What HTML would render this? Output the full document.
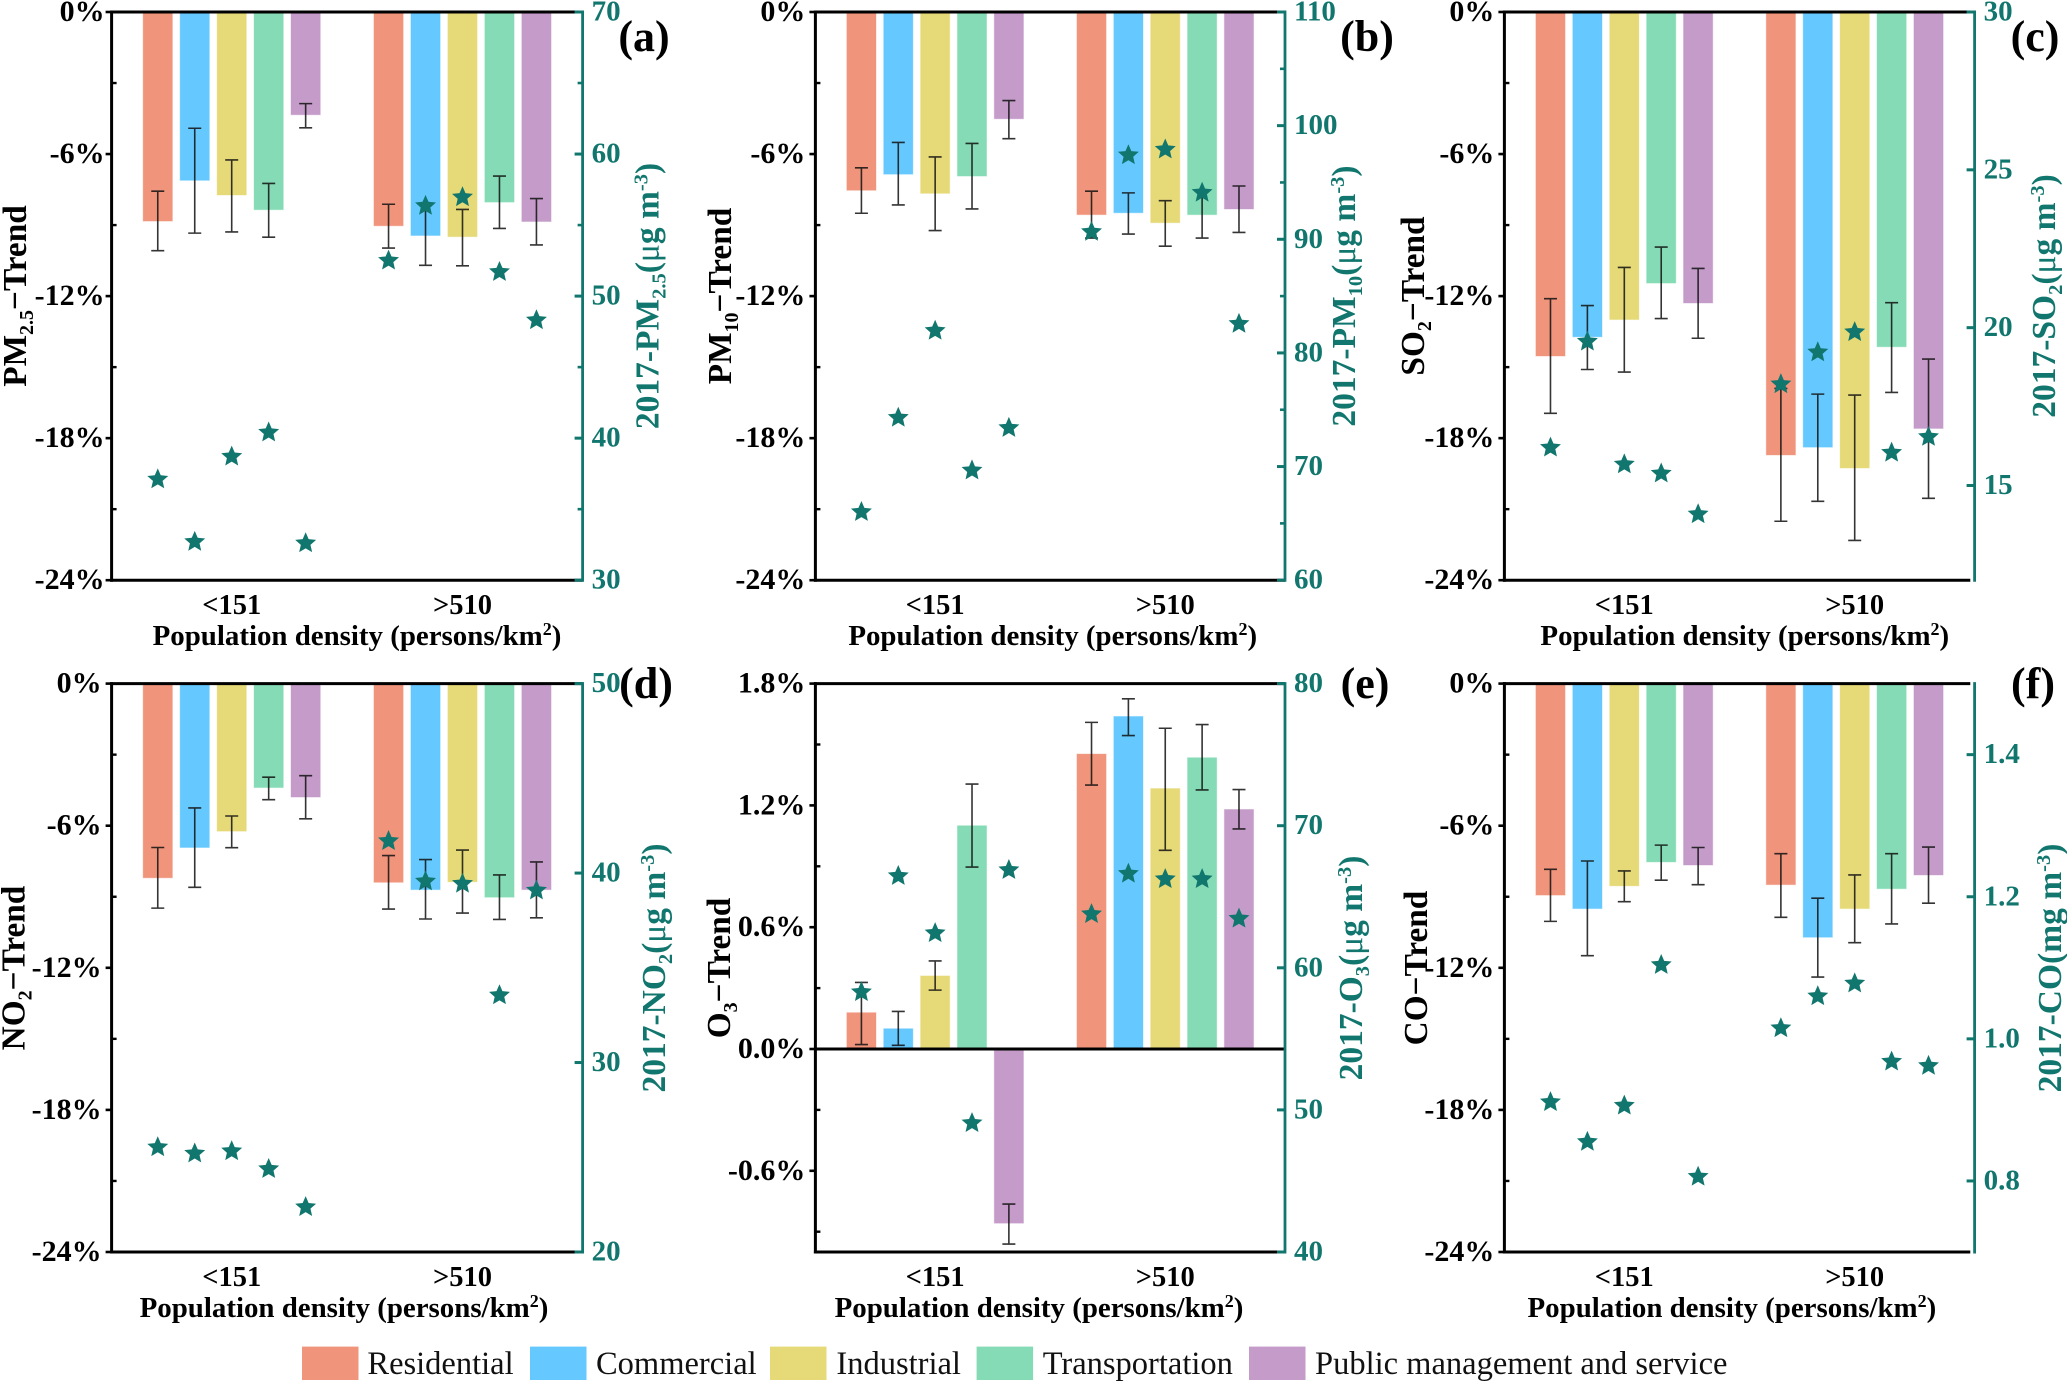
<!DOCTYPE html>
<html lang="en">
<head>
<meta charset="utf-8">
<title>Pollutant trends by population density</title>
<style>
html,body{margin:0;padding:0;background:#fff;width:2067px;height:1381px;overflow:hidden}
svg{display:block;font-family:"Liberation Serif",serif}
text{font-family:"Liberation Serif",serif}
</style>
</head>
<body>
<svg id="figure" xmlns="http://www.w3.org/2000/svg" width="2067" height="1381" viewBox="0 0 2067 1381"></svg>
<script>
const groups = ["<151", ">510"];
const sectors = ["Residential", "Commercial", "Industrial", "Transportation", "Public management and service"];
const sectorColors = ["#f0957c", "#65c9ff", "#e6d977", "#84dbb5", "#c49bc9"];

const trendTicks = ["0%", "-6%", "-12%", "-18%", "-24%"];
const trendMinorTicks = [-3, -9, -15, -21];
const o3TrendTicks = ["1.8%", "1.2%", "0.6%", "0.0%", "-0.6%"];
const o3TrendMinorTicks = [1.5, 0.9, 0.3, -0.3, -0.9];

const pm25Trend = [-8.83, -7.11, -7.73, -8.35, -4.34, -9.03, -9.44, -9.49, -8.03, -8.85];
const pm25ErrUpper = [-7.57, -4.91, -6.25, -7.24, -3.87, -8.12, -8.17, -8.34, -6.93, -7.88];
const pm25ErrLower = [-10.08, -9.34, -9.29, -9.51, -4.89, -9.97, -10.7, -10.72, -9.14, -9.84];
const pm25Conc = [37.1, 32.7, 38.7, 40.4, 32.6, 52.5, 56.35, 56.96, 51.7, 48.3];
const pm25ConcTicks = ["70", "60", "50", "40", "30"];
const pm25ConcMinor = [65, 55, 45, 35];

const pm10Trend = [-7.53, -6.85, -7.66, -6.93, -4.51, -8.56, -8.48, -8.9, -8.56, -8.32];
const pm10ErrUpper = [-6.58, -5.51, -6.12, -5.55, -3.74, -7.57, -7.64, -7.97, -7.57, -7.35];
const pm10ErrLower = [-8.5, -8.15, -9.23, -8.32, -5.35, -9.55, -9.38, -9.89, -9.55, -9.31];
const pm10Conc = [66.0, 74.3, 81.95, 69.66, 73.4, 90.65, 97.4, 97.9, 94.1, 82.56];
const pm10ConcTicks = ["110", "100", "90", "80", "70", "60"];
const pm10ConcMinor = [105, 95, 85, 75, 65];

const so2Trend = [-14.53, -13.72, -12.99, -11.45, -12.29, -18.71, -18.38, -19.26, -14.14, -17.59];
const so2ErrUpper = [-12.11, -12.4, -10.79, -9.93, -10.83, -15.9, -16.14, -16.18, -12.28, -14.66];
const so2ErrLower = [-16.95, -15.1, -15.21, -12.95, -13.78, -21.51, -20.67, -22.32, -16.07, -20.54];
const so2Conc = [16.2, 19.56, 15.67, 15.38, 14.09, 18.21, 19.22, 19.86, 16.04, 16.54];
const so2ConcTicks = ["30", "25", "20", "15"];
const so2ConcMinor = [];

const no2Trend = [-8.2, -6.92, -6.23, -4.39, -4.79, -8.39, -8.7, -8.37, -9.02, -8.7];
const no2ErrUpper = [-6.92, -5.25, -5.59, -3.95, -3.89, -7.26, -7.43, -7.03, -8.08, -7.53];
const no2ErrLower = [-9.48, -8.6, -6.93, -4.9, -5.71, -9.52, -9.94, -9.69, -9.96, -9.89];
const no2Conc = [25.53, 25.2, 25.32, 24.38, 22.37, 41.69, 39.56, 39.44, 33.55, 39.08];
const no2ConcTicks = ["50", "40", "30", "20"];
const no2ConcMinor = [];

const o3Trend = [0.179, 0.1, 0.36, 1.1, -0.858, 1.453, 1.638, 1.283, 1.435, 1.18];
const o3ErrUpper = [0.328, 0.185, 0.434, 1.305, -0.764, 1.609, 1.725, 1.58, 1.598, 1.278];
const o3ErrLower = [0.022, 0.018, 0.29, 0.896, -0.961, 1.3, 1.544, 0.979, 1.276, 1.084];
const o3Conc = [58.29, 66.46, 62.44, 49.07, 66.88, 63.78, 66.62, 66.24, 66.24, 63.46];
const o3ConcTicks = ["80", "70", "60", "50", "40"];
const o3ConcMinor = [];

const coTrend = [-8.93, -9.5, -8.54, -7.53, -7.66, -8.49, -10.71, -9.5, -8.66, -8.08];
const coErrUpper = [-7.84, -7.49, -7.91, -6.82, -6.92, -7.18, -9.06, -8.08, -7.18, -6.9];
const coErrLower = [-10.04, -11.49, -9.21, -8.3, -8.49, -9.87, -12.39, -10.94, -10.15, -9.27];
const coConc = [0.911, 0.855, 0.906, 1.104, 0.806, 1.015, 1.06, 1.078, 0.968, 0.962];
const coConcTicks = ["1.4", "1.2", "1.0", "0.8"];
const coConcMinor = [];

const BLACK = "#000";
const TEAL = "#11766e";
const NS = "http://www.w3.org/2000/svg";
const fig = document.getElementById("figure");

function mk(parent, tag, attrs, txt) {
  const el = document.createElementNS(NS, tag);
  for (const k in attrs) el.setAttribute(k, attrs[k]);
  if (txt !== undefined) el.textContent = txt;
  parent.appendChild(el);
  return el;
}

function starPoints(cx, cy, R) {
  const pts = [];
  for (let i = 0; i < 10; i++) {
    const r = i % 2 ? R * 0.46 : R;
    const a = -Math.PI / 2 + i * Math.PI / 5;
    pts.push((cx + r * Math.cos(a)).toFixed(2) + "," + (cy + r * Math.sin(a)).toFixed(2));
  }
  return pts.join(" ");
}

function richTitle(el, markup) {
  el.innerHTML = markup;
}

function drawPanel(p) {
  const g = mk(fig, "g", {});
  
  

  const W = p.R - p.L;
  const H = p.B - p.T;
  const yLeft = v => p.T + (p.lMax - v) / (p.lMax - p.lMin) * H;
  const yRight = v => p.T + (p.rMax - v) / (p.rMax - p.rMin) * H;
  const xBar = i => {
    const grp = i < 5 ? 0 : 1;
    const c = grp === 0 ? 0.255 : 0.745;
    return p.L + W * (c + ((i % 5) - 2) * 0.0785);
  };
  const barW = W * 0.0621;
  const zero = yLeft(0);

  p.bars.forEach((v, i) => {
    const y0 = Math.min(yLeft(v), zero);
    const h = Math.abs(yLeft(v) - zero);
    const rect = mk(g, "rect", {
      x: xBar(i) - barW / 2, y: y0, width: barW, height: h,
      fill: sectorColors[i % 5], stroke: sectorColors[i % 5], "stroke-opacity": 0.4, "stroke-width": 1
    });
    
    
  });

  p.bars.forEach((v, i) => {
    const x = xBar(i);
    const e = mk(g, "path", {
      d: "M" + x + " " + yLeft(p.upper[i]) + "V" + yLeft(p.lower[i]) +
         "M" + (x - 6.5) + " " + yLeft(p.upper[i]) + "h13" +
         "M" + (x - 6.5) + " " + yLeft(p.lower[i]) + "h13",
      stroke: "#111", "stroke-width": 1.6, fill: "none", "stroke-opacity": 0.85
    });
    
    
  });

  const blackEnd = p.blackEnd || p.R;
  const topLine = mk(g, "line", {x1: p.L - 1.5, x2: blackEnd, y1: p.T, y2: p.T, stroke: BLACK, "stroke-width": 3});
  
  
  const botLine = mk(g, "line", {x1: p.L - 1.5, x2: blackEnd, y1: p.B, y2: p.B, stroke: BLACK, "stroke-width": 3});
  
  
  const leftLine = mk(g, "line", {x1: p.L, x2: p.L, y1: p.T - 1.5, y2: p.B + 1.5, stroke: BLACK, "stroke-width": 3});
  
  
  if (p.zeroLine) {
    const zl = mk(g, "line", {x1: p.L, x2: p.R, y1: zero, y2: zero, stroke: BLACK, "stroke-width": 3});
    
    
  }
  const rightLine = mk(g, "line", {x1: p.R, x2: p.R, y1: p.T - 1.5, y2: p.B + 1.5, stroke: TEAL, "stroke-width": 2.8});
  
  

  p.lTicks.forEach(t => {
    const y = yLeft(parseFloat(t));
    const tick = mk(g, "line", {x1: p.L - 6, x2: p.L, y1: y, y2: y, stroke: BLACK, "stroke-width": 2.6});
    
    
    const lab = mk(g, "text", {x: p.L - p.lOff, y: y + 9, "text-anchor": "end", "font-size": 30, "font-weight": "bold", fill: BLACK}, t);
    
    
  });
  p.lMinor.forEach(v => {
    const y = yLeft(v);
    const tick = mk(g, "line", {x1: p.L, x2: p.L + 5, y1: y, y2: y, stroke: BLACK, "stroke-width": 2.4});
    
    
  });
  p.rTicks.forEach(t => {
    const y = yRight(parseFloat(t));
    const tick = mk(g, "line", {x1: p.R - 8, x2: p.R, y1: y, y2: y, stroke: TEAL, "stroke-width": 3});
    
    
    const lab = mk(g, "text", {x: p.R + 9, y: y + 8.5, "font-size": 29, "font-weight": "bold", fill: TEAL}, t);
    
    
  });
  p.rMinor.forEach(v => {
    const y = yRight(v);
    const tick = mk(g, "line", {x1: p.R - 5, x2: p.R, y1: y, y2: y, stroke: TEAL, "stroke-width": 2.6});
    
    
  });

  p.stars.forEach((v, i) => {
    const s = mk(g, "polygon", {points: starPoints(xBar(i), yRight(v), 11), fill: TEAL});
    
    
  });

  groups.forEach((name, i) => {
    const c = i === 0 ? 0.255 : 0.745;
    const lab = mk(g, "text", {x: p.L + W * c, y: p.B + 34, "text-anchor": "middle", "font-size": 28.5, "font-weight": "bold", fill: BLACK}, name);
    
    
  });

  const xt = mk(g, "text", {x: p.xTitleX, y: p.B + 65, "text-anchor": "middle", "font-size": 28.9, "font-weight": "bold", fill: BLACK});
  
  
  richTitle(xt, 'Population density (persons/km<tspan dy="-10" font-size="18">2</tspan><tspan dy="10">)</tspan>');

  const yt = mk(g, "text", {transform: "translate(" + p.yTitleX + "," + p.cy + ") rotate(-90)", "text-anchor": "middle", "font-size": 33.3, "font-weight": "bold", fill: BLACK});
  
  
  richTitle(yt, p.yTitle);

  const rt = mk(g, "text", {transform: "translate(" + p.rTitleX + "," + p.cy + ") rotate(-90)", "text-anchor": "middle", "font-size": 33.5, "font-weight": "bold", fill: TEAL});
  
  
  richTitle(rt, p.rTitle);

  const pl = mk(g, "text", {x: p.labelX, y: p.labelY, "text-anchor": "middle", "font-size": 44, "font-weight": "bold", fill: BLACK}, "(" + p.id + ")");
  
  
}

const sub = s => '<tspan dy="7" font-size="20">' + s + '</tspan><tspan dy="-7">';
const subR = s => '<tspan dy="7" font-size="20.5">' + s + '</tspan><tspan dy="-7">';
const unit = (u, m) => '(<tspan font-weight="normal">' + u + '</tspan>g m<tspan dy="-11" font-size="20.5">-3</tspan><tspan dy="11">)</tspan>';

const topRow = {T: 12, B: 580.2, cy: 296};
const botRow = {T: 683.6, B: 1252, cy: 968};
const colA = {L: 111.6, R: 582.6};
const colB = {L: 815.4, R: 1285};
const colC = {L: 1504.4, R: 1974.6, blackEnd: 1970.3};

drawPanel({id: "a", ...topRow, ...colA, lMax: 0, lMin: -24, rMax: 70, rMin: 30, lOff: 7,
  bars: pm25Trend, upper: pm25ErrUpper, lower: pm25ErrLower, stars: pm25Conc,
  lTicks: trendTicks, lMinor: trendMinorTicks, rTicks: pm25ConcTicks, rMinor: pm25ConcMinor,
  xTitleX: 357, yTitleX: 26, rTitleX: 658.5, labelX: 644, labelY: 51,
  yTitle: 'PM' + sub('2.5') + '−Trend</tspan>',
  rTitle: '2017-PM' + subR('2.5') + unit('μ') + '</tspan>'});

drawPanel({id: "b", ...topRow, ...colB, lMax: 0, lMin: -24, rMax: 110, rMin: 60, lOff: 10,
  bars: pm10Trend, upper: pm10ErrUpper, lower: pm10ErrLower, stars: pm10Conc,
  lTicks: trendTicks, lMinor: trendMinorTicks, rTicks: pm10ConcTicks, rMinor: pm10ConcMinor,
  xTitleX: 1052.7, yTitleX: 731, rTitleX: 1355, labelX: 1367, labelY: 51,
  yTitle: 'PM' + sub('10') + '−Trend</tspan>',
  rTitle: '2017-PM' + subR('10') + unit('μ') + '</tspan>'});

drawPanel({id: "c", ...topRow, ...colC, lMax: 0, lMin: -24, rMax: 30, rMin: 12, lOff: 10,
  bars: so2Trend, upper: so2ErrUpper, lower: so2ErrLower, stars: so2Conc,
  lTicks: trendTicks, lMinor: trendMinorTicks, rTicks: so2ConcTicks, rMinor: so2ConcMinor,
  xTitleX: 1744.8, yTitleX: 1424, rTitleX: 2055, labelX: 2035, labelY: 51,
  yTitle: 'SO' + sub('2') + '−Trend</tspan>',
  rTitle: '2017-SO' + subR('2') + unit('μ') + '</tspan>'});

drawPanel({id: "d", ...botRow, ...colA, lMax: 0, lMin: -24, rMax: 50, rMin: 20, lOff: 10,
  bars: no2Trend, upper: no2ErrUpper, lower: no2ErrLower, stars: no2Conc,
  lTicks: trendTicks, lMinor: trendMinorTicks, rTicks: no2ConcTicks, rMinor: no2ConcMinor,
  xTitleX: 344, yTitleX: 24.5, rTitleX: 665, labelX: 646, labelY: 698,
  yTitle: 'NO' + sub('2') + '−Trend</tspan>',
  rTitle: '2017-NO' + subR('2') + unit('μ') + '</tspan>'});

drawPanel({id: "e", ...botRow, ...colB, lMax: 1.8, lMin: -1.0, rMax: 80, rMin: 40, lOff: 10, zeroLine: true,
  bars: o3Trend, upper: o3ErrUpper, lower: o3ErrLower, stars: o3Conc,
  lTicks: o3TrendTicks, lMinor: o3TrendMinorTicks, rTicks: o3ConcTicks, rMinor: o3ConcMinor,
  xTitleX: 1039, yTitleX: 730, rTitleX: 1362, labelX: 1365, labelY: 698,
  yTitle: 'O' + sub('3') + '−Trend</tspan>',
  rTitle: '2017-O' + subR('3') + unit('μ') + '</tspan>'});

drawPanel({id: "f", ...botRow, ...colC, lMax: 0, lMin: -24, rMax: 1.5, rMin: 0.7, lOff: 10,
  bars: coTrend, upper: coErrUpper, lower: coErrLower, stars: coConc,
  lTicks: trendTicks, lMinor: trendMinorTicks, rTicks: coConcTicks, rMinor: coConcMinor,
  xTitleX: 1731.9, yTitleX: 1427, rTitleX: 2061, labelX: 2033, labelY: 698,
  yTitle: 'CO−Trend',
  rTitle: '2017-CO(mg m<tspan dy="-11" font-size="20.5">-3</tspan><tspan dy="11">)</tspan>'});

const legendX = [302, 530, 770, 976.6, 1249];
const legendTextX = [367.4, 596, 836.4, 1042.7, 1315];
const legend = mk(fig, "g", {});


sectors.forEach((name, i) => {
  const sw = mk(legend, "rect", {x: legendX[i], y: 1346.6, width: 56.5, height: 33.4, fill: sectorColors[i]});
  
  
  const t = mk(legend, "text", {x: legendTextX[i], y: 1374, "font-size": 32.5, fill: "#111"}, name);
  
  
});
</script>
</body>
</html>
